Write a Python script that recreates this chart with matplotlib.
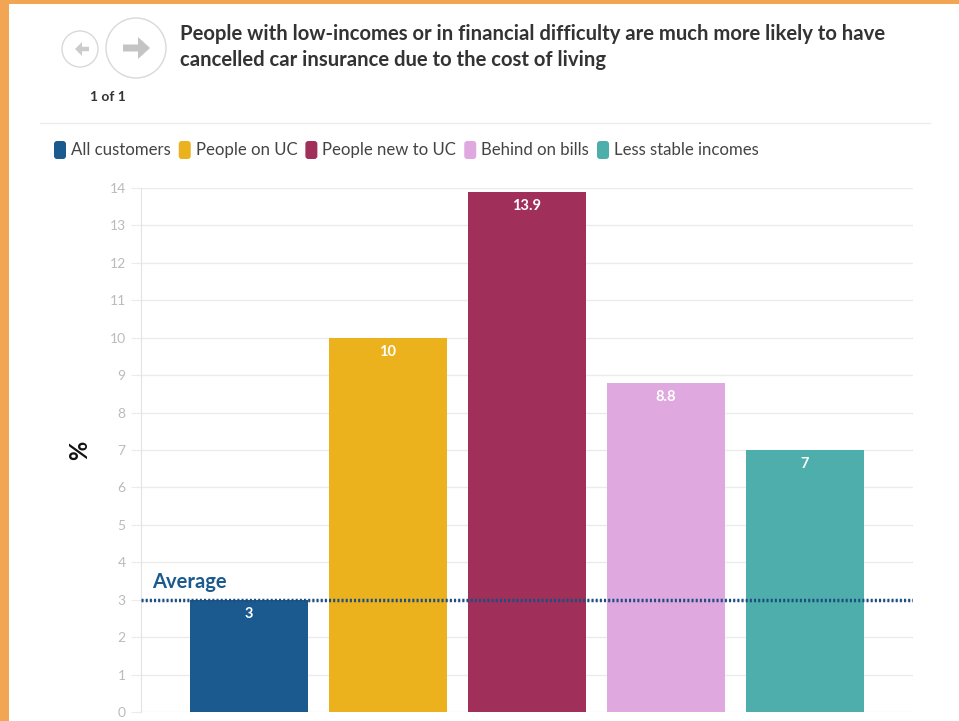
import matplotlib
matplotlib.use('Agg')
import matplotlib.pyplot as plt
from matplotlib.patches import Circle, FancyBboxPatch, Rectangle, FancyArrow

plt.rcParams['font.family'] = ['Lato', 'DejaVu Sans']

categories = ['All customers', 'People on UC', 'People new to UC', 'Behind on bills', 'Less stable incomes']
values = [3, 10, 13.9, 8.8, 7]
labels = ['3', '10', '13.9', '8.8', '7']
colors = ['#1b5a8e', '#ecb21e', '#a0305a', '#dfa8df', '#4daeac']
average = 3
title = ('People with low-incomes or in financial difficulty are much more likely to have\n'
         'cancelled car insurance due to the cost of living')

W, H = 959, 721
fig = plt.figure(figsize=(W / 100, H / 100), dpi=100)
fig.patch.set_facecolor('white')

# background layer in pixel coordinates
bg = fig.add_axes([0, 0, 1, 1], zorder=0)
bg.set_xlim(0, W)
bg.set_ylim(H, 0)
bg.axis('off')
bg.add_patch(Rectangle((0, 0), 9, H, color='#f2a654', lw=0))
bg.add_patch(Rectangle((0, 0), W, 4, color='#f2a654', lw=0))
bg.add_patch(Circle((80, 49), 18, fill=False, ec='#d9d9d9', lw=1))
bg.add_patch(Circle((136, 48), 30, fill=False, ec='#d9d9d9', lw=1))
bg.add_patch(FancyArrow(89, 49, -14, 0, width=4.5, head_width=14, head_length=7,
                        length_includes_head=True, color='#cccccc', lw=0))
bg.add_patch(FancyArrow(123, 48, 27, 0, width=7, head_width=22, head_length=12,
                        length_includes_head=True, color='#c4c4c4', lw=0))
bg.text(108, 97, '1 of 1', ha='center', va='center', fontsize=10, fontweight='bold', color='#333333')
bg.plot([40, 930], [123, 123], color='#ececec', lw=1)
bg.text(180, 47, title, ha='left', va='center', fontsize=14.6, fontweight='bold',
        color='#333333', linespacing=1.4)

# legend
fig.canvas.draw()
renderer = fig.canvas.get_renderer()
x = 54
for cat, col in zip(categories, colors):
    bg.add_patch(FancyBboxPatch((x, 141), 12, 18, boxstyle='round,pad=0,rounding_size=3',
                                fc=col, ec='none'))
    t = bg.text(x + 17, 150, cat, ha='left', va='center', fontsize=12.1, color='#444444')
    bb = t.get_window_extent(renderer)
    x = x + 17 + bb.width + 8

# main chart
ax = fig.add_axes([141 / W, (H - 712) / H, (913 - 141) / W, (712 - 188) / H], zorder=1)
ax.patch.set_alpha(0)
xs = list(range(len(values)))
bars = ax.bar(xs, values, width=0.85, color=colors, zorder=2)
ax.set_xlim(-0.777, len(values) - 1 + 0.777)
ax.set_ylim(0, 14)
ax.set_yticks(range(0, 15))
ax.set_xticks([])
ax.grid(axis='y', color='#ebebeb', lw=1, zorder=0)
for s in ['top', 'right', 'bottom']:
    ax.spines[s].set_visible(False)
ax.spines['left'].set_color('#e3e3e3')
ax.tick_params(axis='y', length=7, color='#ebebeb', labelcolor='#bbbbbb', labelsize=10, pad=4)

for b, lab in zip(bars, labels):
    ax.annotate(lab, (b.get_x() + b.get_width() / 2, b.get_height()), xytext=(0, -10),
                textcoords='offset points', ha='center', va='center', color='white',
                fontsize=10.5, fontweight='bold', zorder=3)

ax.axhline(average, color='#1c4e80', lw=2.5, ls=(0, (0.6, 0.6)), zorder=4)
ax.annotate('Average', (-0.777, average), xytext=(8, 13), textcoords='offset points',
            ha='left', va='center', color='#1b5a8e', fontsize=14.5, fontweight='bold')
ax.text((80 - 141) / (913 - 141), 0.5, '%', transform=ax.transAxes, rotation=90,
        ha='center', va='center', fontsize=17, fontweight='bold', color='#111111')

fig.savefig('out.png', dpi=100)
